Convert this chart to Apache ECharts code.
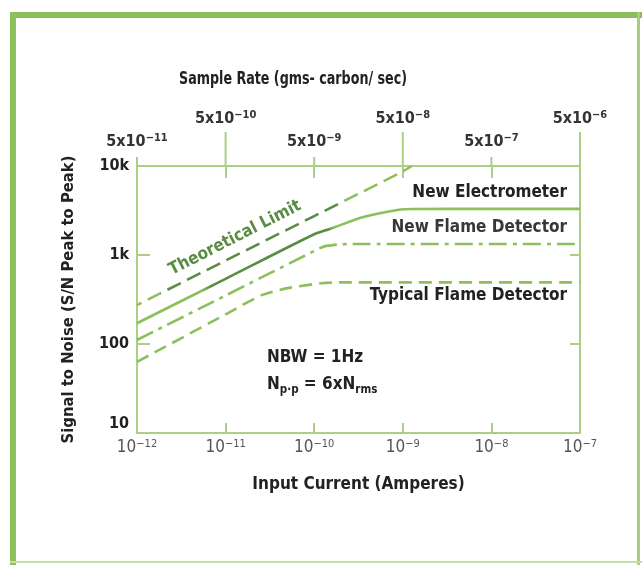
<!DOCTYPE html>
<html><head><meta charset="utf-8">
<script src="https://cdn.jsdelivr.net/npm/echarts@6.0.0/dist/echarts.min.js"></script>
<style>html,body{margin:0;padding:0;background:#fff}#c{width:642px;height:565px}</style>
</head><body><div id="c"></div>
<script>
// ---- tick labels ----
const bottomTickExp = ['−12', '−11', '−10', '−9', '−8', '−7'];
const topTickMantissa = '5x10';
const topTickExp = ['−11', '−10', '−9', '−8', '−7', '−6'];
const yTickLabels = ['10', '100', '1k', '10k'];
const topTickValues = [1e-12, 1e-11, 1e-10, 1e-9, 1e-8, 1e-7];

// ---- series data (input current A, S/N) ----
const theoreticalX = [1e-12, 1e-11, 1e-10, 1e-9, 1.26e-9];
const theoreticalY = [274, 866, 2740, 8660, 10000];
const electrometerX = [1e-12, 1e-11, 1e-10, 1.5e-10, 3.6e-10, 8.7e-10, 1.3e-9, 1e-8, 1e-7];
const electrometerY = [171, 540, 1710, 1960, 2670, 3210, 3290, 3300, 3300];
const newFlameX = [1e-12, 1e-11, 1e-10, 1.3e-10, 2e-10, 4e-10, 1e-7];
const newFlameY = [111, 351, 1110, 1250, 1320, 1330, 1330];
const typicalX = [1e-12, 1e-11, 2.6e-11, 5.4e-11, 1.2e-10, 2e-10, 1e-7];
const typicalY = [63, 215, 356, 430, 481, 493, 493];

const zip = (xs, ys) => xs.map((x, i) => [x, ys[i]]);
const FONT = '"DejaVu Sans Condensed", "DejaVu Sans", sans-serif';
const AXIS = '#a9d083';
const DARK = '#5b8c43';
const LIGHT = '#8dbf5b';
const exp = v => Math.round(Math.log10(v));
const grad = stops => new echarts.graphic.LinearGradient(0, 0, 1, 0, stops.map(s => ({offset: s[0], color: s[1]})));

const chart = echarts.init(document.getElementById('c'), null, {renderer: 'canvas'});
chart.setOption({
  backgroundColor: '#fff',
  animation: false,
  grid: {left: 137, right: 62, top: 166, bottom: 132, outerBoundsMode: 'none', containLabel: false},
  xAxis: [{
    type: 'log', logBase: 10, min: 1e-12, max: 1e-7, position: 'bottom',
    axisLine: {lineStyle: {color: AXIS, width: 2}},
    axisTick: {inside: true, length: 10, lineStyle: {color: AXIS, width: 2}},
    splitLine: {show: false}, minorTick: {show: false},
    axisLabel: {
      margin: 6, showMinLabel: true, showMaxLabel: true,
      formatter: v => '{b|10}{s|' + bottomTickExp[exp(v) + 12] + '}',
      rich: {
        b: {fontFamily: FONT, fontSize: 17, color: '#555', lineHeight: 18},
        s: {fontFamily: FONT, fontSize: 11, color: '#555', lineHeight: 11, verticalAlign: 'top'}
      }
    },
    name: 'Input Current (Amperes)', nameLocation: 'middle', nameGap: 43,
    nameTextStyle: {fontFamily: FONT, fontSize: 17, fontWeight: 'bold', color: '#222'}
  }, {
    type: 'log', logBase: 10, min: 1e-12, max: 1e-7, position: 'top',
    axisLine: {lineStyle: {color: AXIS, width: 2}},
    axisTick: {inside: true, length: 12, lineStyle: {color: AXIS, width: 2}},
    splitLine: {show: false},
    axisLabel: {
      margin: 15, showMinLabel: true, showMaxLabel: true,
      formatter: v => {
        const i = exp(v) + 12;
        const t = '{b|' + topTickMantissa + '}{s|' + topTickExp[i] + '}';
        return i % 2 === 1 ? t + '\n{g| }' : t;
      },
      rich: {
        b: {fontFamily: FONT, fontSize: 16, fontWeight: 'bold', color: '#333', lineHeight: 18},
        s: {fontFamily: FONT, fontSize: 11, fontWeight: 'bold', color: '#333', lineHeight: 11, verticalAlign: 'top'},
        g: {fontSize: 10, lineHeight: 23}
      }
    }
  }],
  yAxis: [{
    type: 'log', logBase: 10, min: 10, max: 10000, position: 'left',
    axisLine: {lineStyle: {color: AXIS, width: 2}},
    axisTick: {inside: true, length: 13, lineStyle: {color: AXIS, width: 2}},
    splitLine: {show: false},
    axisLabel: {
      margin: 8, showMinLabel: true, showMaxLabel: true,
      formatter: v => exp(v) === 1 ? '{lo|' + yTickLabels[0] + '}' : '{b|' + yTickLabels[exp(v) - 1] + '}',
      rich: {
        b: {fontFamily: FONT, fontSize: 16, fontWeight: 'bold', color: '#222'},
        lo: {fontFamily: FONT, fontSize: 16, fontWeight: 'bold', color: '#222', padding: [0, 0, 18, 0]}
      }
    },
    name: 'Signal to Noise (S/N Peak to Peak)', nameLocation: 'middle', nameGap: 60, nameRotate: 90,
    nameTextStyle: {fontFamily: FONT, fontSize: 16.5, fontWeight: 'bold', color: '#222'}
  }, {
    type: 'log', logBase: 10, min: 10, max: 10000, position: 'right',
    axisLine: {lineStyle: {color: AXIS, width: 2}},
    axisTick: {inside: true, length: 10, lineStyle: {color: AXIS, width: 2}},
    axisLabel: {show: false}, splitLine: {show: false}
  }],
  series: [{
    type: 'custom', xAxisIndex: 0, yAxisIndex: 0, clip: false, silent: true, z: 1,
    data: topTickValues.map(v => [v, 10000]),
    renderItem: (params, api) => {
      const p = api.coord([api.value(0), api.value(1)]);
      const len = params.dataIndex % 2 === 1 ? 34 : 9;
      return {type: 'line', shape: {x1: p[0], y1: p[1], x2: p[0], y2: p[1] - len},
        style: {stroke: AXIS, lineWidth: 2}};
    }
  }, {
    name: 'Theoretical Limit', type: 'line', showSymbol: false, symbol: 'none',
    data: zip(theoreticalX, theoreticalY),
    lineStyle: {width: 2.6, type: [15, 7], dashOffset: 10,
      color: grad([[0, LIGHT], [0.09, LIGHT], [0.11, DARK], [0.72, DARK], [0.75, LIGHT], [1, LIGHT]])}
  }, {
    name: 'New Electrometer', type: 'line', showSymbol: false, symbol: 'none', smooth: 0.25,
    data: zip(electrometerX, electrometerY),
    lineStyle: {width: 2.6, type: 'solid',
      color: grad([[0, LIGHT], [0.15, LIGHT], [0.17, DARK], [0.43, DARK], [0.45, LIGHT], [1, LIGHT]])}
  }, {
    name: 'New Flame Detector', type: 'line', showSymbol: false, symbol: 'none', smooth: 0.2,
    data: zip(newFlameX, newFlameY),
    lineStyle: {width: 2.6, type: [18, 6, 4, 6], color: LIGHT}
  }, {
    name: 'Typical Flame Detector', type: 'line', showSymbol: false, symbol: 'none', smooth: 0.25,
    data: zip(typicalX, typicalY),
    lineStyle: {width: 2.6, type: [13, 7], color: LIGHT}
  }],
  graphic: [
    {type: 'rect', shape: {x: 10, y: 12, width: 632, height: 6}, style: {fill: '#8cbd5c'}, silent: true},
    {type: 'rect', shape: {x: 10, y: 12, width: 6, height: 553}, style: {fill: '#8fc060'}, silent: true},
    {type: 'rect', shape: {x: 637, y: 12, width: 3, height: 553}, style: {fill: '#a5cf7c'}, silent: true},
    {type: 'rect', shape: {x: 10, y: 561, width: 632, height: 2}, style: {fill: '#c2e0a4'}, silent: true},
    {type: 'text', x: 293, y: 80, scaleX: 0.83, silent: true,
      style: {text: 'Sample Rate (gms- carbon/ sec)', font: 'bold 17px ' + FONT, fill: '#222',
        align: 'center', verticalAlign: 'middle', textAlign: 'center', textVerticalAlign: 'middle'}},
    {type: 'text', x: 235, y: 238, rotation: 27 * Math.PI / 180, silent: true,
      style: {text: 'Theoretical Limit', font: 'bold 17px ' + FONT, fill: DARK,
        align: 'center', verticalAlign: 'middle', textAlign: 'center', textVerticalAlign: 'middle'}},
    {type: 'text', x: 567, y: 193, silent: true,
      style: {text: 'New Electrometer', font: 'bold 17px ' + FONT, fill: '#222',
        align: 'right', verticalAlign: 'middle', textAlign: 'right', textVerticalAlign: 'middle'}},
    {type: 'text', x: 567, y: 228, silent: true,
      style: {text: 'New Flame Detector', font: 'bold 17px ' + FONT, fill: '#383838',
        align: 'right', verticalAlign: 'middle', textAlign: 'right', textVerticalAlign: 'middle'}},
    {type: 'text', x: 567, y: 296, silent: true,
      style: {text: 'Typical Flame Detector', font: 'bold 17px ' + FONT, fill: '#222',
        align: 'right', verticalAlign: 'middle', textAlign: 'right', textVerticalAlign: 'middle'}},
    {type: 'text', x: 267, y: 358, silent: true,
      style: {text: 'NBW = 1Hz', font: 'bold 17px ' + FONT, fill: '#222',
        align: 'left', verticalAlign: 'middle', textAlign: 'left', textVerticalAlign: 'middle'}},
    {type: 'text', x: 267, y: 385, silent: true,
      style: {text: '{n|N}{sub|p·p}{n| = 6xN}{sub|rms}', fill: '#222',
        align: 'left', verticalAlign: 'middle', textAlign: 'left', textVerticalAlign: 'middle',
        rich: {
          n: {fontFamily: FONT, fontSize: 17, fontWeight: 'bold', fill: '#222', lineHeight: 22},
          sub: {fontFamily: FONT, fontSize: 11.5, fontWeight: 'bold', fill: '#222', lineHeight: 12, verticalAlign: 'bottom'}
        }}}
  ]
});
</script></body></html>
